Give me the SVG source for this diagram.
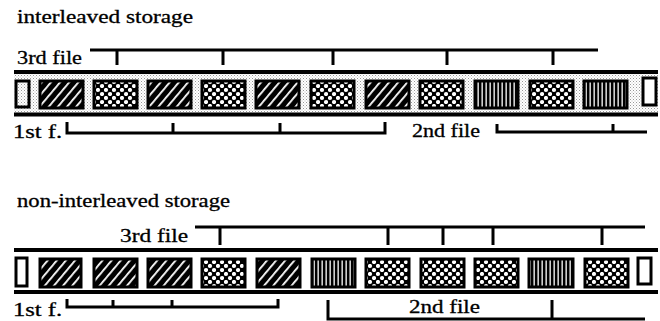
<svg xmlns="http://www.w3.org/2000/svg" width="660" height="321" viewBox="0 0 660 321">
<defs>
<pattern id="hatch" width="7" height="7" patternUnits="userSpaceOnUse" patternTransform="rotate(40)">
<rect width="7" height="7" fill="#000"/>
<rect x="0" y="0" width="1.8" height="7" fill="#fff"/>
</pattern>
<pattern id="dots" width="8" height="8" patternUnits="userSpaceOnUse">
<rect width="8" height="8" fill="#000"/>
<circle cx="2" cy="2" r="2.1" fill="#fff"/>
<circle cx="6" cy="6" r="2.1" fill="#fff"/>
</pattern>
<pattern id="vert" width="4" height="4" patternUnits="userSpaceOnUse">
<rect width="4" height="4" fill="#000"/>
<rect x="1.5" y="0" width="1.3" height="4" fill="#fff"/>
</pattern>
<pattern id="stip" width="3" height="3" patternUnits="userSpaceOnUse">
<rect width="3" height="3" fill="#fff"/>
<rect x="0" y="0" width="1" height="1" fill="#999"/>
<rect x="1.5" y="1.5" width="1" height="1" fill="#bbb"/>
</pattern>
</defs>
<style>
text{font-family:"Liberation Serif","DejaVu Serif","Times New Roman",serif;font-size:18px;fill:#000;stroke:#000;stroke-width:0.3}
.b{stroke:#000;stroke-width:3}
.h{fill:url(#hatch)}
.d{fill:url(#dots)}
.v{fill:url(#vert)}
.rail{stroke:#000;stroke-width:4;fill:none}
.cap{stroke:#000;stroke-width:3}
.br{stroke:#000;stroke-width:3;fill:none}
</style>

<g id="title-interleaved"><text x="17" y="23" textLength="176" lengthAdjust="spacingAndGlyphs">interleaved storage</text></g>

<g id="strip-interleaved">
<rect x="14" y="74" width="644" height="39" fill="url(#stip)"/>
<line class="rail" x1="14" y1="72" x2="658" y2="72"/>
<line class="rail" x1="14" y1="114.5" x2="658" y2="114.5"/>
<rect class="cap" x="16" y="81" width="13" height="26" fill="url(#stip)"/>
<rect class="b h" x="40" y="81" width="43" height="27"/>
<rect class="b d" x="94" y="81" width="43" height="27"/>
<rect class="b h" x="148" y="81" width="43" height="27"/>
<rect class="b d" x="202" y="81" width="43" height="27"/>
<rect class="b h" x="256" y="81" width="43" height="27"/>
<rect class="b d" x="311" y="81" width="43" height="27"/>
<rect class="b h" x="366" y="81" width="43" height="27"/>
<rect class="b d" x="420" y="81" width="43" height="27"/>
<rect class="b v" x="475" y="81" width="43" height="27"/>
<rect class="b d" x="530" y="81" width="43" height="27"/>
<rect class="b v" x="584" y="81" width="43" height="27"/>
<rect class="cap" x="643" y="78" width="13" height="27" fill="#fff"/>
</g>

<g id="labels-interleaved">
<text x="17" y="64" textLength="65" lengthAdjust="spacingAndGlyphs">3rd file</text>
<text x="13" y="138" textLength="49" lengthAdjust="spacingAndGlyphs">1st f.</text>
<text x="412" y="137" textLength="68" lengthAdjust="spacingAndGlyphs">2nd file</text>
</g>

<g id="title-noninterleaved"><text x="17" y="207" textLength="213" lengthAdjust="spacingAndGlyphs">non-interleaved storage</text></g>

<g id="strip-noninterleaved">
<rect x="14" y="252" width="644" height="38" fill="#fff"/>
<line class="rail" x1="14" y1="250" x2="658" y2="250"/>
<line class="rail" x1="14" y1="292" x2="658" y2="292"/>
<rect class="cap" x="16" y="258" width="11" height="28" fill="#fff"/>
<rect class="b h" x="40" y="259" width="41" height="28"/>
<rect class="b h" x="94" y="259" width="43" height="28"/>
<rect class="b h" x="148" y="259" width="43" height="28"/>
<rect class="b d" x="202" y="259" width="43" height="28"/>
<rect class="b h" x="257" y="259" width="43" height="28"/>
<rect class="b v" x="312" y="259" width="43" height="28"/>
<rect class="b d" x="366" y="259" width="43" height="28"/>
<rect class="b d" x="421" y="259" width="43" height="28"/>
<rect class="b d" x="475" y="259" width="43" height="28"/>
<rect class="b v" x="529" y="259" width="44" height="28"/>
<rect class="b d" x="585" y="259" width="43" height="28"/>
<rect class="cap" x="638" y="258" width="13" height="26" fill="#fff"/>
</g>

<g id="labels-noninterleaved">
<text x="120" y="242" textLength="68" lengthAdjust="spacingAndGlyphs">3rd file</text>
<text x="13" y="316" textLength="49" lengthAdjust="spacingAndGlyphs">1st f.</text>
<text x="409" y="313" textLength="71" lengthAdjust="spacingAndGlyphs">2nd file</text>
</g>

<g id="connectors">
<path class="br" d="M90,50 H598 M117,50 V65 M223,50 V65 M333,50 V65 M447,50 V65 M553,50 V65"/>
<path class="br" d="M67,122 V133 H385 V122 M173,133 V123 M280,133 V123"/>
<path class="br" d="M497,124 V132 H647 M613,132 V124"/>
<path class="br" d="M195,227 H645 M220,227 V245 M388,227 V245 M443,227 V245 M493,227 V245 M602,227 V245"/>
<path class="br" d="M67,299 V307 H278 V299 M113,307 V300 M172,307 V300"/>
<path class="br" d="M328,300 V319 H645 M552,319 V300"/>
</g>
</svg>
